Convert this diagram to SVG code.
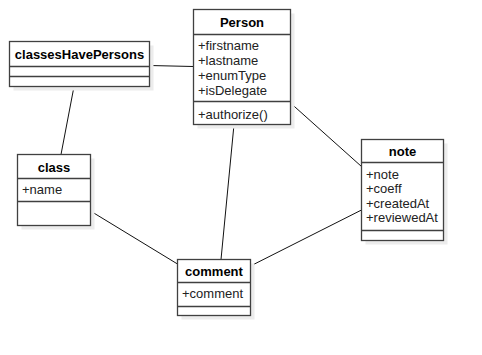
<svg xmlns="http://www.w3.org/2000/svg" width="482" height="355" viewBox="0 0 482 355">
  <style>
    .shadow { fill: #ececec; }
    .box { fill: #ffffff; stroke: #404040; stroke-width: 1.3; }
    .sep { stroke: #404040; stroke-width: 1.3; }
    .edge { stroke: #111111; stroke-width: 1; fill: none; }
    .title { font-family: "Liberation Sans", Arial, sans-serif; font-size: 13px; font-weight: bold; fill: #000; text-anchor: middle; }
    .attr { font-family: "Liberation Sans", Arial, sans-serif; font-size: 13px; fill: #222; }
  </style>
  <rect width="482" height="355" fill="#ffffff"/>

  <g id="connectors">
    <line class="edge" x1="149.5" y1="65.5" x2="193.5" y2="66.5"/>
    <line class="edge" x1="74" y1="86.5" x2="61" y2="154.5"/>
    <line class="edge" x1="90.5" y1="211" x2="177.5" y2="264"/>
    <line class="edge" x1="234" y1="124.5" x2="221" y2="259.5"/>
    <line class="edge" x1="290.5" y1="103" x2="361.5" y2="166.5"/>
    <line class="edge" x1="250.5" y1="266" x2="361.5" y2="210"/>
  </g>

  <g id="person">
    <rect class="shadow" x="197.5" y="13.5" width="97" height="115"/>
    <rect class="box" x="193.5" y="9.5" width="97" height="115"/>
    <line class="sep" x1="193.5" y1="34.5" x2="290.5" y2="34.5"/>
    <line class="sep" x1="193.5" y1="101.5" x2="290.5" y2="101.5"/>
    <text class="title" x="242" y="27">Person</text>
    <text class="attr" x="198" y="50">+firstname</text>
    <text class="attr" x="198" y="65">+lastname</text>
    <text class="attr" x="198" y="80">+enumType</text>
    <text class="attr" x="198" y="95">+isDelegate</text>
    <text class="attr" x="198" y="119">+authorize()</text>
  </g>

  <g id="classesHavePersons">
    <rect class="shadow" x="13.5" y="45.5" width="140" height="45"/>
    <rect class="box" x="9.5" y="41.5" width="140" height="45"/>
    <line class="sep" x1="9.5" y1="66.5" x2="149.5" y2="66.5"/>
    <line class="sep" x1="9.5" y1="76.5" x2="149.5" y2="76.5"/>
    <text class="title" x="79.5" y="59">classesHavePersons</text>
  </g>

  <g id="class">
    <rect class="shadow" x="21.5" y="158.5" width="73" height="71"/>
    <rect class="box" x="17.5" y="154.5" width="73" height="71"/>
    <line class="sep" x1="17.5" y1="178.5" x2="90.5" y2="178.5"/>
    <line class="sep" x1="17.5" y1="201.5" x2="90.5" y2="201.5"/>
    <text class="title" x="54" y="171.5">class</text>
    <text class="attr" x="22" y="193.5">+name</text>
  </g>

  <g id="note">
    <rect class="shadow" x="365.5" y="143.5" width="82" height="101"/>
    <rect class="box" x="361.5" y="139.5" width="82" height="101"/>
    <line class="sep" x1="361.5" y1="162.5" x2="443.5" y2="162.5"/>
    <line class="sep" x1="361.5" y1="230.5" x2="443.5" y2="230.5"/>
    <text class="title" x="402.5" y="156">note</text>
    <text class="attr" x="366" y="178.5">+note</text>
    <text class="attr" x="366" y="193">+coeff</text>
    <text class="attr" x="366" y="207.5">+createdAt</text>
    <text class="attr" x="366" y="222">+reviewedAt</text>
  </g>

  <g id="comment">
    <rect class="shadow" x="181.5" y="263.5" width="73" height="56"/>
    <rect class="box" x="177.5" y="259.5" width="73" height="56"/>
    <line class="sep" x1="177.5" y1="282.5" x2="250.5" y2="282.5"/>
    <line class="sep" x1="177.5" y1="306.5" x2="250.5" y2="306.5"/>
    <text class="title" x="214" y="275.5">comment</text>
    <text class="attr" x="182" y="298">+comment</text>
  </g>
</svg>
